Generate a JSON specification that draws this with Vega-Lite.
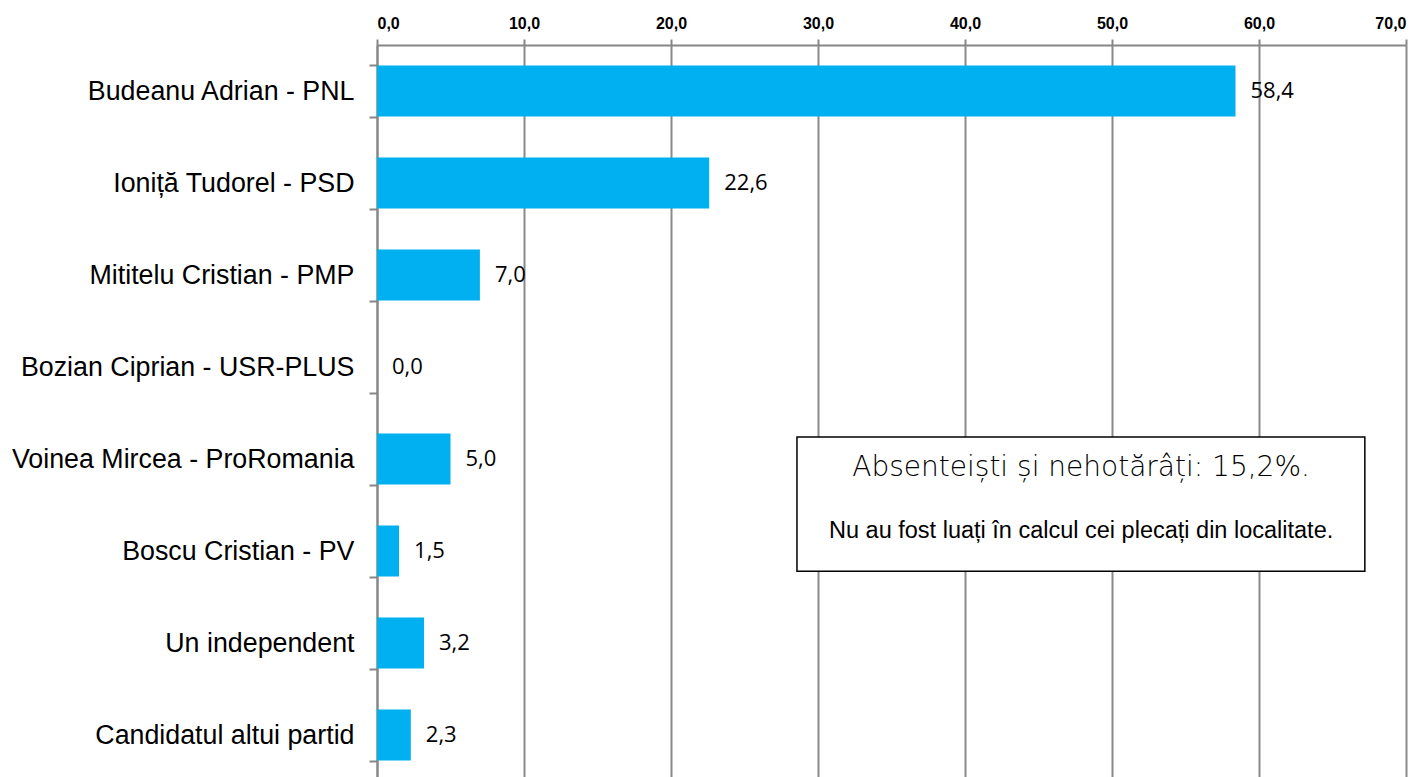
{
  "$schema": "https://vega.github.io/schema/vega-lite/v6.json",
  "autosize": "none",
  "width": 1029,
  "height": 736,
  "padding": {"left": 377, "top": 45, "right": 19, "bottom": 0},
  "background": "white",
  "config": {
    "locale": {"number": {"decimal": ",", "thousands": ".", "grouping": [3], "currency": ["", ""]}},
    "view": {"stroke": null}
  },
  "datasets": {
    "votes": [
      {"candidat": "Budeanu Adrian - PNL", "procent": 58.4},
      {"candidat": "Ioniță Tudorel - PSD", "procent": 22.6},
      {"candidat": "Mititelu Cristian - PMP", "procent": 7.0},
      {"candidat": "Bozian Ciprian - USR-PLUS", "procent": 0.0},
      {"candidat": "Voinea Mircea - ProRomania", "procent": 5.0},
      {"candidat": "Boscu Cristian - PV", "procent": 1.5},
      {"candidat": "Un independent", "procent": 3.2},
      {"candidat": "Candidatul altui partid", "procent": 2.3}
    ],
    "note": [
      {"titlu": "Absenteiști și nehotărâți: 15,2%.", "nota": "Nu au fost luați în calcul cei plecați din localitate."}
    ]
  },
  "layer": [
    {
      "data": {"name": "votes"},
      "layer": [
        {
          "mark": {"type": "bar", "color": "#00B0F0"},
          "encoding": {
            "y": {
              "field": "candidat", "type": "nominal", "sort": null,
              "scale": {"paddingInner": 0.445, "paddingOuter": 0.2225},
              "axis": {
                "title": null, "orient": "left", "tickBand": "extent",
                "tickSize": 8, "tickColor": "#868686", "tickWidth": 2,
                "domainColor": "#868686", "domainWidth": 2,
                "labelFont": "Liberation Sans", "labelFontSize": 26.8, "labelColor": "#000000",
                "labelPadding": 15, "labelLimit": 450
              }
            },
            "x": {
              "field": "procent", "type": "quantitative",
              "scale": {"domain": [0, 70], "nice": false},
              "axis": {
                "title": null, "orient": "top", "values": [0, 10, 20, 30, 40, 50, 60, 70],
                "format": ".1f", "grid": true, "gridColor": "#8a8a8a", "gridWidth": 2,
                "tickSize": 6, "tickColor": "#868686", "tickWidth": 2,
                "domainColor": "#868686", "domainWidth": 2,
                "labelFont": "Liberation Sans", "labelFontWeight": "bold", "labelFontSize": 16,
                "labelColor": "#000000", "labelPadding": 8
              }
            }
          }
        },
        {
          "mark": {"type": "text", "align": "left", "dx": 15, "font": "Open Sans", "fontSize": 22, "color": "#000000"},
          "encoding": {
            "y": {"field": "candidat", "type": "nominal", "sort": null},
            "x": {"field": "procent", "type": "quantitative"},
            "text": {"field": "procent", "type": "quantitative", "format": ".1f"}
          }
        }
      ]
    },
    {
      "data": {"name": "note"},
      "layer": [
        {
          "mark": {"type": "rect", "fill": "white", "stroke": "#000000", "strokeWidth": 1.5},
          "encoding": {
            "x": {"datum": 28.57, "type": "quantitative"},
            "x2": {"datum": 67.2},
            "y": {"datum": 4.26, "type": "quantitative", "scale": {"domain": [0, 8], "reverse": true}, "axis": null},
            "y2": {"datum": 5.72}
          }
        },
        {
          "mark": {"type": "text", "align": "center", "baseline": "middle", "font": "DejaVu Sans", "fontWeight": 300, "fontSize": 28, "letterSpacing": 2.2, "color": "#000000"},
          "encoding": {
            "x": {"datum": 47.9, "type": "quantitative"},
            "y": {"datum": 4.6, "type": "quantitative"},
            "text": {"field": "titlu"}
          }
        },
        {
          "mark": {"type": "text", "align": "center", "baseline": "middle", "font": "Liberation Sans", "fontSize": 23.5, "color": "#000000"},
          "encoding": {
            "x": {"datum": 47.9, "type": "quantitative"},
            "y": {"datum": 5.28, "type": "quantitative"},
            "text": {"field": "nota"}
          }
        }
      ]
    }
  ],
  "resolve": {"scale": {"y": "independent"}}
}
